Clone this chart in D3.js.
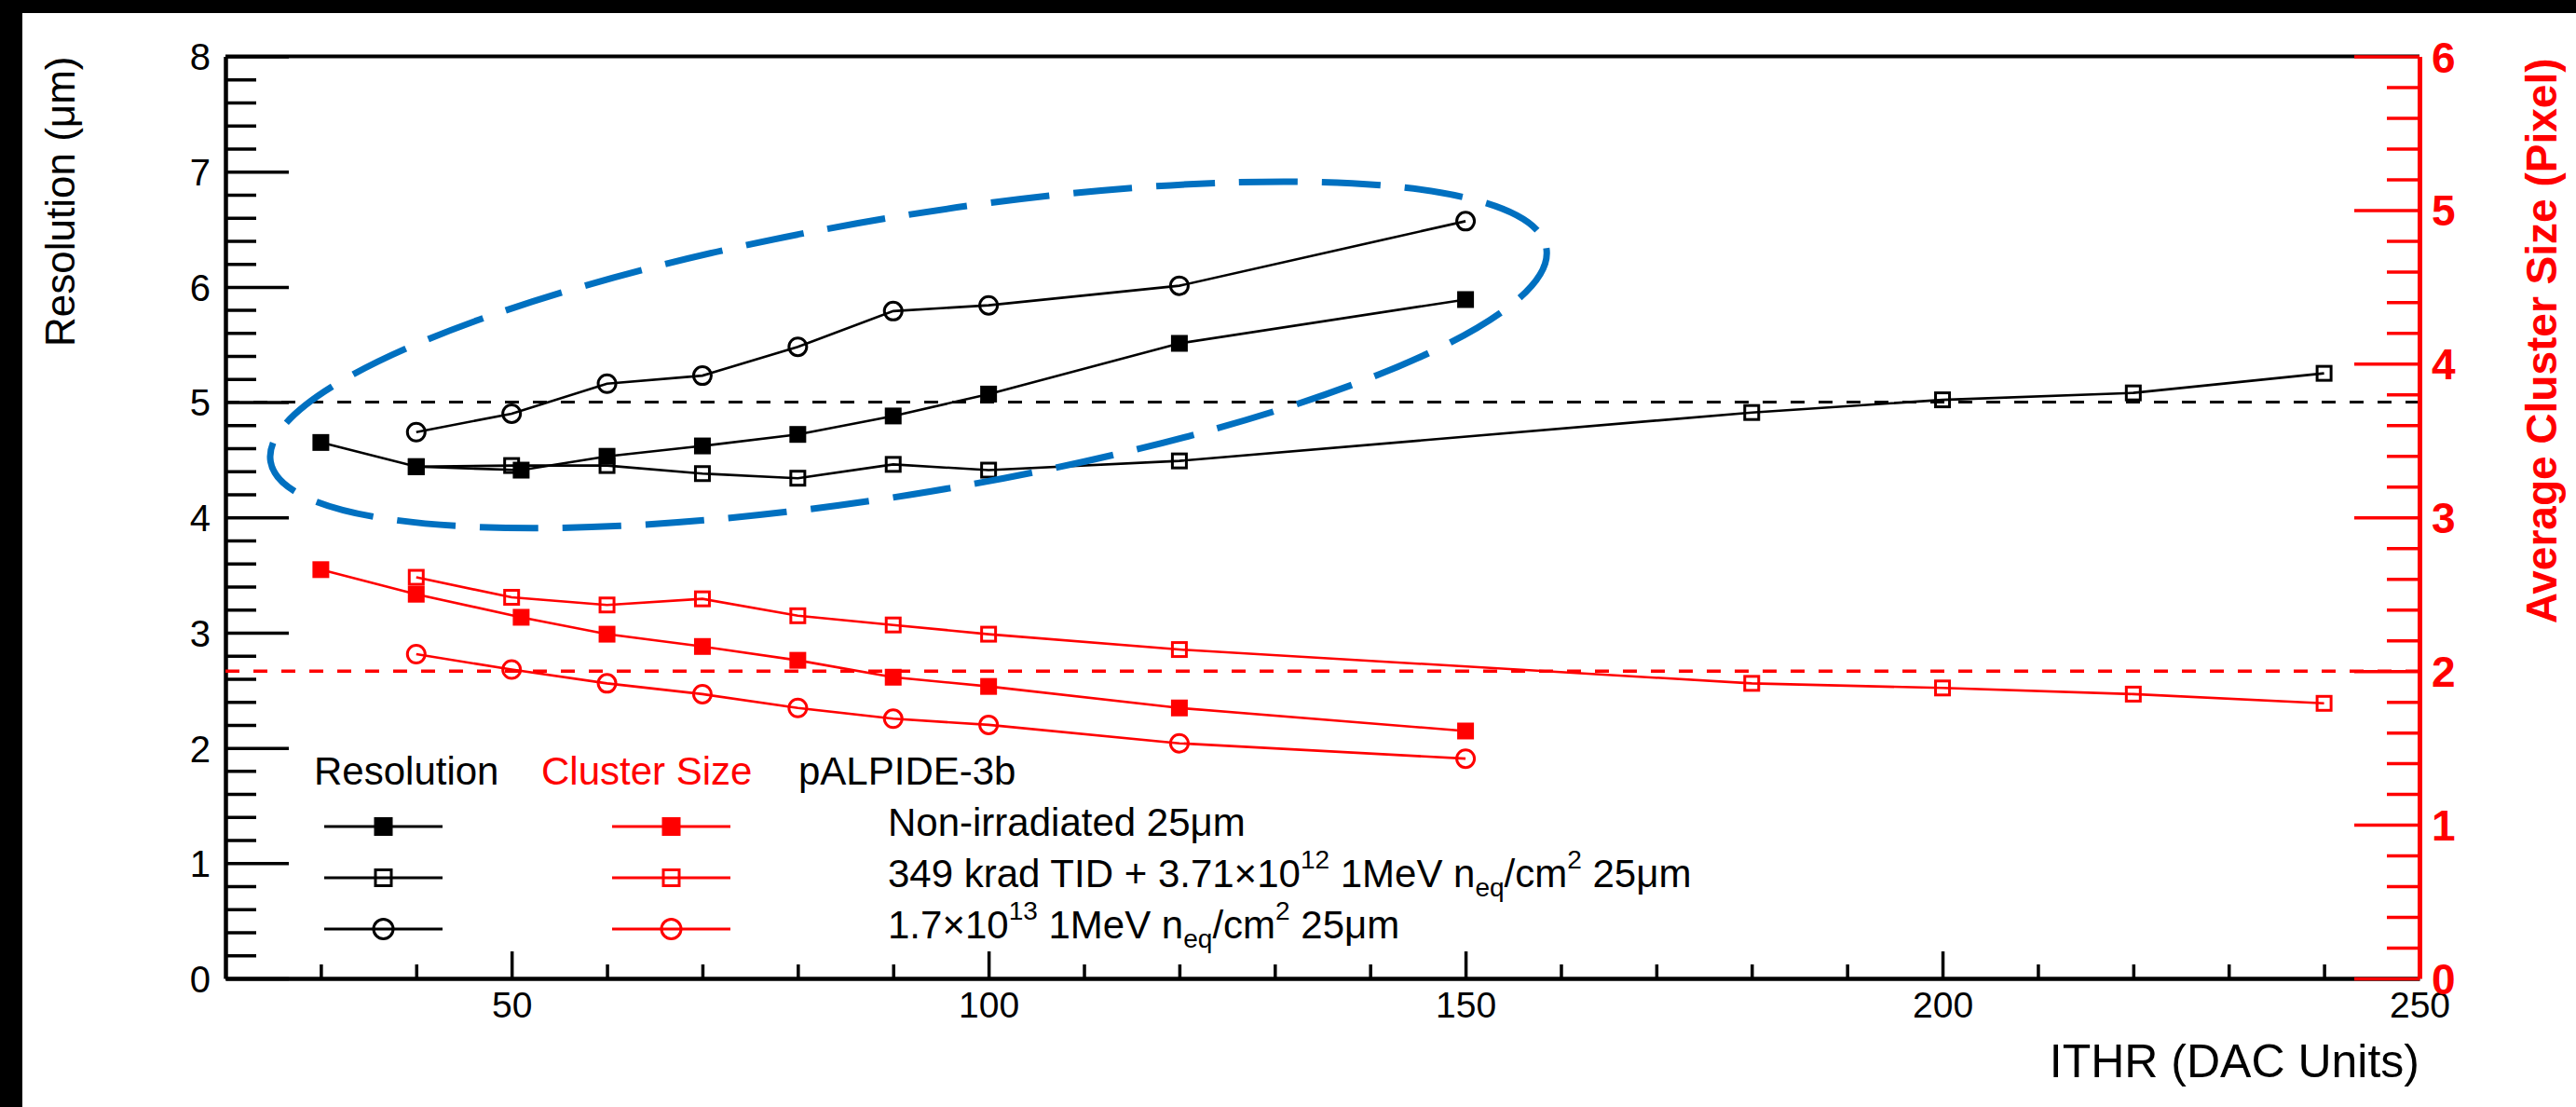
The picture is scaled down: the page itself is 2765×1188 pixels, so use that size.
<!DOCTYPE html>
<html>
<head>
<meta charset="utf-8">
<script src="https://cdn.jsdelivr.net/npm/d3@7"></script>
<style>
  html, body { margin: 0; padding: 0; background: #000; }
  svg { display: block; }
  text { font-family: "Liberation Sans", Arial, Helvetica, sans-serif; }
</style>
</head>
<body>
<svg id="chart"></svg>
<script>
const width = 2765;
const height = 1188;

// ITHR values (DAC units) for each sample
const ithrNonIrr = [30, 40, 51, 60, 70, 80, 90, 100, 120, 150];
const ithrTid = [40, 50, 60, 70, 80, 90, 100, 120, 180, 200, 220, 240];
const ithrNiel = [40, 50, 60, 70, 80, 90, 100, 120, 150];

// Resolution (um), left axis
const resNonIrr = [4.65, 4.44, 4.41, 4.53, 4.62, 4.72, 4.88, 5.07, 5.51, 5.89];
const resTid = [4.44, 4.45, 4.45, 4.38, 4.34, 4.46, 4.41, 4.49, 4.91, 5.02, 5.08, 5.25];
const resNiel = [4.74, 4.90, 5.16, 5.23, 5.48, 5.79, 5.84, 6.01, 6.57];

// Average cluster size (pixel), right axis
const clusNonIrr = [2.66, 2.50, 2.35, 2.24, 2.16, 2.07, 1.96, 1.90, 1.76, 1.61];
const clusTid = [2.61, 2.48, 2.43, 2.47, 2.36, 2.30, 2.24, 2.14, 1.92, 1.89, 1.85, 1.79];
const clusNiel = [2.11, 2.01, 1.92, 1.85, 1.76, 1.69, 1.65, 1.53, 1.43];

// reference lines
const resTarget = 5;
const clusTarget = 2;

// tick values
const xMajorTicks = [50, 100, 150, 200, 250];
const xMinorTicks = [30, 40, 60, 70, 80, 90, 110, 120, 130, 140, 160, 170, 180, 190, 210, 220, 230, 240];
const yLeftTicks = [0, 1, 2, 3, 4, 5, 6, 7, 8];
const yRightTicks = [0, 1, 2, 3, 4, 5, 6];

// legend text pieces (sup / sub marked)
const legendHeader = ["Resolution", "Cluster Size", "pALPIDE-3b"];
const legendLabels = [
  [{ t: "Non-irradiated 25μm" }],
  [{ t: "349 krad TID + 3.71×10" }, { t: "12", sup: true }, { t: " 1MeV n" }, { t: "eq", sub: true },
   { t: "/cm" }, { t: "2", sup: true }, { t: " 25μm" }],
  [{ t: "1.7×10" }, { t: "13", sup: true }, { t: " 1MeV n" }, { t: "eq", sub: true },
   { t: "/cm" }, { t: "2", sup: true }, { t: " 25μm" }]
];

// highlight ellipse, centre in data units
const ellipseCenter = [91.6, 5.41];
const ellipseHalfX = 67.8;   // ITHR units along the tilted major axis
const ellipseHalfY = 1.2;    // resolution units
const ellipseTilt = -9.5;

const RED = "#ff0000";
const BLACK = "#000000";
const BLUE = "#0070c0";

const svg = d3.select("#chart")
  .attr("width", width)
  .attr("height", height);

// white page with the black edge of the screenshot on top/left
svg.append("rect").attr("x", 0).attr("y", 0).attr("width", width).attr("height", height).attr("fill", "#000");
svg.append("rect").attr("x", 24).attr("y", 14).attr("width", width - 24).attr("height", height - 14).attr("fill", "#fff");

// Scales
const x = d3.scaleLinear().domain([20, 250]).range([242, 2597]);
const yL = d3.scaleLinear().domain([0, 8]).range([1050, 60.5]);
const yR = d3.scaleLinear().domain([0, 6]).range([1050, 60.5]);

// top frame
svg.append("line")
  .attr("x1", x(20)).attr("x2", x(250))
  .attr("y1", yL(8)).attr("y2", yL(8))
  .attr("stroke", BLACK).attr("stroke-width", 4);

// Bottom axis
const gxMinor = svg.append("g")
  .attr("transform", `translate(0,${yL(0)})`)
  .call(d3.axisBottom(x).tickValues(xMinorTicks).tickSize(-15).tickFormat(""));
gxMinor.select(".domain").remove();

const gx = svg.append("g")
  .attr("transform", `translate(0,${yL(0)})`)
  .call(d3.axisBottom(x).tickValues(xMajorTicks).tickSize(-29).tickSizeOuter(0).tickPadding(14)
    .tickFormat(d3.format("d")));
gx.selectAll("text").attr("font-size", 39).attr("fill", BLACK);

[gx, gxMinor].forEach(g => {
  g.selectAll(".tick line").attr("stroke", BLACK).attr("stroke-width", 3.5);
});
gx.select(".domain").attr("stroke", BLACK).attr("stroke-width", 4.5);

// Left axis
const gyMinor = svg.append("g")
  .attr("transform", `translate(${x(20)},0)`)
  .call(d3.axisLeft(yL).tickValues(d3.range(0, 40).map(i => i * 0.2).filter(v => Math.abs(v - Math.round(v)) > 1e-6))
    .tickSize(-33).tickFormat(""));
gyMinor.select(".domain").remove();

const gy = svg.append("g")
  .attr("transform", `translate(${x(20)},0)`)
  .call(d3.axisLeft(yL).tickValues(yLeftTicks).tickSize(-68).tickSizeOuter(0).tickPadding(16)
    .tickFormat(d3.format("d")));
gy.selectAll("text").attr("font-size", 40).attr("fill", BLACK).attr("dy", "0.36em");
[gy, gyMinor].forEach(g => {
  g.selectAll(".tick line").attr("stroke", BLACK).attr("stroke-width", 3.5);
});
gy.select(".domain").attr("stroke", BLACK).attr("stroke-width", 4.5);

// Axis titles
svg.append("text")
  .attr("transform", `translate(80,${yL(8)}) rotate(-90)`)
  .attr("text-anchor", "end")
  .attr("font-size", 44)
  .attr("fill", BLACK)
  .text("Resolution (μm)");

svg.append("text")
  .attr("x", x(250))
  .attr("y", 1156)
  .attr("text-anchor", "end")
  .attr("font-size", 50)
  .attr("fill", BLACK)
  .text("ITHR (DAC Units)");

svg.append("text")
  .attr("transform", `translate(2744,${yR(6) + 2}) rotate(-90)`)
  .attr("text-anchor", "end")
  .attr("font-size", 46)
  .attr("font-weight", "bold")
  .attr("fill", RED)
  .text("Average Cluster Size (Pixel)");

// dashed reference lines
svg.append("line")
  .attr("x1", x(20)).attr("x2", x(250))
  .attr("y1", yL(resTarget)).attr("y2", yL(resTarget))
  .attr("stroke", BLACK).attr("stroke-width", 3)
  .attr("stroke-dasharray", "15 15");

svg.append("line")
  .attr("x1", x(20)).attr("x2", x(250))
  .attr("y1", yR(clusTarget)).attr("y2", yR(clusTarget))
  .attr("stroke", RED).attr("stroke-width", 3.5)
  .attr("stroke-dasharray", "15 15");

// markers
const markerSize = 18;
function drawMarker(g, type, color, cx, cy, size) {
  const s = size || markerSize;
  if (type === "fsq") {
    g.append("rect").attr("x", cx - s / 2).attr("y", cy - s / 2)
      .attr("width", s).attr("height", s).attr("fill", color);
  } else if (type === "osq") {
    g.append("rect").attr("x", cx - s / 2 + 1.5).attr("y", cy - s / 2 + 1.5)
      .attr("width", s - 3).attr("height", s - 3)
      .attr("fill", "none").attr("stroke", color).attr("stroke-width", 3);
  } else {
    g.append("circle").attr("cx", cx).attr("cy", cy).attr("r", s / 2 + 0.5)
      .attr("fill", "none").attr("stroke", color).attr("stroke-width", 3);
  }
}

const series = [
  { xs: ithrNonIrr, ys: resNonIrr, scale: yL, color: BLACK, marker: "fsq" },
  { xs: ithrTid, ys: resTid, scale: yL, color: BLACK, marker: "osq" },
  { xs: ithrNiel, ys: resNiel, scale: yL, color: BLACK, marker: "ocirc" },
  { xs: ithrNonIrr, ys: clusNonIrr, scale: yR, color: RED, marker: "fsq" },
  { xs: ithrTid, ys: clusTid, scale: yR, color: RED, marker: "osq" },
  { xs: ithrNiel, ys: clusNiel, scale: yR, color: RED, marker: "ocirc" }
];

const plot = svg.append("g").attr("class", "data");
series.forEach(s => {
  const pts = s.xs.map((v, i) => [v, s.ys[i]]);
  const line = d3.line().x(d => x(d[0])).y(d => s.scale(d[1]));
  plot.append("path")
    .attr("d", line(pts))
    .attr("fill", "none")
    .attr("stroke", s.color)
    .attr("stroke-width", 2.6);
  const gm = plot.append("g");
  pts.forEach(d => drawMarker(gm, s.marker, s.color, x(d[0]), s.scale(d[1])));
});

// Legend
const legend = svg.append("g").attr("class", "legend");
const headerX = [337, 581, 857];
const headerColor = [BLACK, RED, BLACK];
legendHeader.forEach((t, i) => {
  legend.append("text")
    .attr("x", headerX[i]).attr("y", 842)
    .attr("font-size", 42)
    .attr("fill", headerColor[i])
    .text(t);
});

const markerTypes = ["fsq", "osq", "ocirc"];
legendLabels.forEach((pieces, i) => {
  const rowY = 887 + i * 55;
  [[348, 475, BLACK], [657, 784, RED]].forEach(([x1, x2, c]) => {
    legend.append("line")
      .attr("x1", x1).attr("x2", x2)
      .attr("y1", rowY).attr("y2", rowY)
      .attr("stroke", c).attr("stroke-width", 3);
    drawMarker(legend, markerTypes[i], c, (x1 + x2) / 2, rowY, 20);
  });

  const txt = legend.append("text")
    .attr("x", 953).attr("y", rowY + 10)
    .attr("font-size", 42)
    .attr("fill", BLACK);
  let shift = 0;
  pieces.forEach(p => {
    const target = p.sup ? -20 : p.sub ? 10 : 0;
    txt.append("tspan")
      .attr("dy", target - shift)
      .attr("font-size", p.sup || p.sub ? 28 : 42)
      .text(p.t);
    shift = target;
  });
});

// Right axis (drawn late so its red ticks sit over the frame)
const gyRMinor = svg.append("g")
  .attr("transform", `translate(${x(250)},0)`)
  .call(d3.axisRight(yR).tickValues(d3.range(0, 30).map(i => i * 0.2).filter(v => Math.abs(v - Math.round(v)) > 1e-6))
    .tickSize(-35).tickFormat(""));
gyRMinor.select(".domain").remove();

const gyR = svg.append("g")
  .attr("transform", `translate(${x(250)},0)`)
  .call(d3.axisRight(yR).tickValues(yRightTicks).tickSize(-70).tickSizeOuter(0).tickPadding(13)
    .tickFormat(d3.format("d")));
gyR.selectAll("text")
  .attr("font-size", 46).attr("font-weight", "bold")
  .attr("fill", RED).attr("dy", "0.36em");
[gyR, gyRMinor].forEach(g => {
  g.selectAll(".tick line").attr("stroke", RED).attr("stroke-width", 3.5);
});
gyR.select(".domain").attr("stroke", RED).attr("stroke-width", 5);

// Blue dashed highlight ellipse
const ecx = x(ellipseCenter[0]);
const ecy = yL(ellipseCenter[1]);
svg.append("ellipse")
  .attr("transform", `translate(${ecx},${ecy}) rotate(${ellipseTilt})`)
  .attr("cx", 0).attr("cy", 0)
  .attr("rx", x(ellipseCenter[0] + ellipseHalfX) - ecx)
  .attr("ry", ecy - yL(ellipseCenter[1] + ellipseHalfY))
  .attr("fill", "none")
  .attr("stroke", BLUE)
  .attr("stroke-width", 7)
  .attr("stroke-dasharray", "63 26");
</script>
</body>
</html>
